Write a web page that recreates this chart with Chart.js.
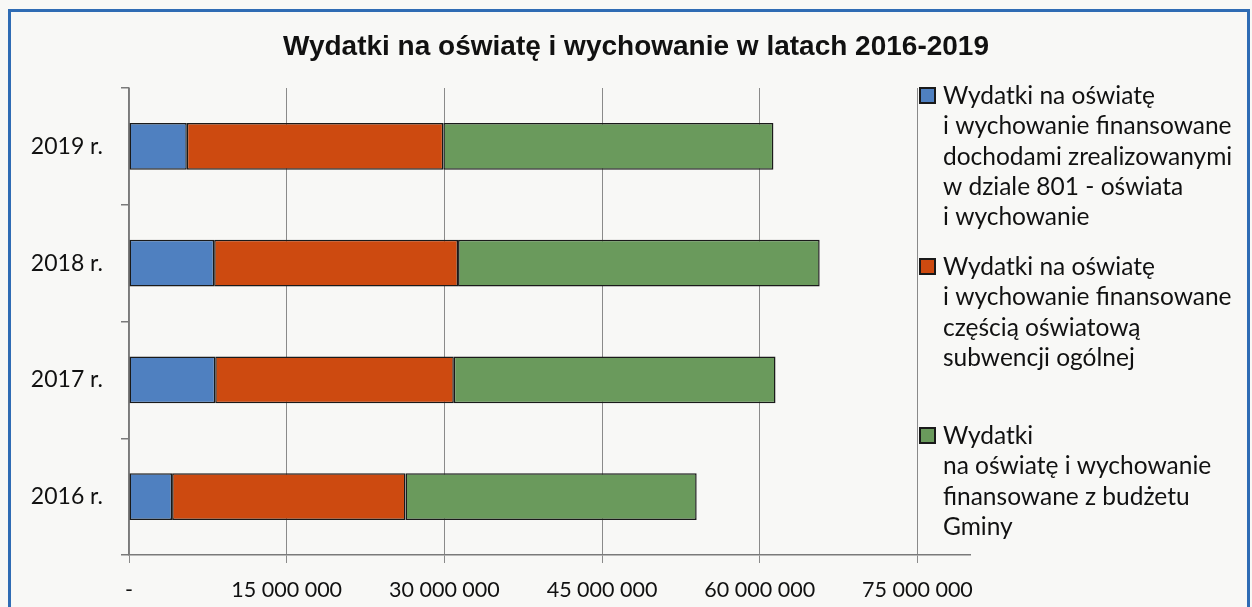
<!DOCTYPE html>
<html><head><meta charset="utf-8">
<script src="https://cdn.jsdelivr.net/npm/chart.js@4.4.1/dist/chart.umd.min.js"></script>
<style>
html,body{margin:0;padding:0;background:#f8f8f6;width:1252px;height:607px;overflow:hidden;}
#frame{position:absolute;left:8px;top:9px;width:1236px;height:700px;border:3px solid #2f6cb4;}
#wrap{position:absolute;left:0;top:0;width:1252px;height:607px;}
</style></head><body>
<div id="frame"></div>
<div id="wrap"><canvas id="c" width="1252" height="607"></canvas></div>
<script>
const chartTitle = 'Wydatki na oświatę i wychowanie w latach 2016-2019';
const categories = ['2019 r.', '2018 r.', '2017 r.', '2016 r.'];
const seriesOwnIncome = [5500000, 8100000, 8200000, 4100000];
const seriesSubsidy = [24400000, 23200000, 22700000, 22200000];
const seriesBudget = [31400000, 34400000, 30600000, 27700000];
const xTickValues = [0, 15000000, 30000000, 45000000, 60000000, 75000000];
const xTickLabels = ['-', '15 000 000', '30 000 000', '45 000 000', '60 000 000', '75 000 000'];
const legendOwnIncome = ['Wydatki na oświatę', 'i wychowanie finansowane', 'dochodami zrealizowanymi', 'w dziale 801 - oświata', 'i wychowanie'];
const legendSubsidy = ['Wydatki na oświatę', 'i wychowanie finansowane', 'częścią oświatową', 'subwencji ogólnej'];
const legendBudget = ['Wydatki', 'na oświatę i wychowanie', 'finansowane z budżetu', 'Gminy'];

const colors = ['#4f80c0', '#cd4a10', '#6a9a5c'];
const legendTop = [96, 267, 436];
const FONT = 'Lato';

const overlay = {
  id: 'overlay',
  afterDraw(chart) {
    const ctx = chart.ctx;
    ctx.save();
    ctx.fillStyle = '#111';
    ctx.font = 'bold 28px "Liberation Sans"';
    ctx.textAlign = 'center';
    ctx.textBaseline = 'middle';
    ctx.fillText(chartTitle, 636, 47);
    const groups = [legendOwnIncome, legendSubsidy, legendBudget];
    ctx.font = '24.5px ' + FONT;
    ctx.textAlign = 'left';
    groups.forEach((lines, i) => {
      const y0 = legendTop[i];
      ctx.fillStyle = colors[i];
      ctx.fillRect(920, y0 - 8, 15, 15);
      ctx.strokeStyle = '#1a1a1a';
      ctx.lineWidth = 2;
      ctx.strokeRect(920, y0 - 8, 15, 15);
      ctx.fillStyle = '#111';
      lines.forEach((t, j) => ctx.fillText(t, 943, y0 + j * 30.3));
    });
    ctx.restore();
  }
};

const ds = (label, data, color) => ({
  label, data, backgroundColor: color, borderColor: '#1a1a1a', borderWidth: 1.5,
  borderSkipped: false, barPercentage: 0.4, categoryPercentage: 1
});

new Chart(document.getElementById('c'), {
  type: 'bar',
  data: {
    labels: categories,
    datasets: [
      ds(legendOwnIncome.join(' '), seriesOwnIncome, colors[0]),
      ds(legendSubsidy.join(' '), seriesSubsidy, colors[1]),
      ds(legendBudget.join(' '), seriesBudget, colors[2])
    ]
  },
  options: {
    indexAxis: 'y',
    responsive: false,
    animation: false,
    devicePixelRatio: 1,
    layout: { padding: { top: 88, right: 282, left: 0, bottom: 0 } },
    plugins: { legend: { display: false }, title: { display: false }, tooltip: { enabled: false } },
    scales: {
      x: {
        type: 'linear', stacked: true, min: 0, max: 80000000,
        afterBuildTicks: s => { s.ticks = xTickValues.map(v => ({ value: v })); },
        afterFit: s => { s.height = 52; },
        ticks: {
          callback: v => xTickLabels[xTickValues.indexOf(v)],
          font: { family: FONT, size: 21.5 }, color: '#111', padding: 14, maxRotation: 0, autoSkip: false
        },
        grid: { color: '#8a8a8a', lineWidth: 1, tickLength: 8 },
        border: { color: '#7a7a7a', width: 1.5 }
      },
      y: {
        type: 'category', stacked: true,
        afterFit: s => { s.width = 129; },
        ticks: { font: { family: FONT, size: 23 }, color: '#111', padding: 18 },
        grid: { drawOnChartArea: false, tickLength: 8, color: '#7a7a7a', lineWidth: 1.5, offset: true },
        border: { color: '#7a7a7a', width: 1.5 }
      }
    }
  },
  plugins: [overlay]
});
</script>
</body></html>
